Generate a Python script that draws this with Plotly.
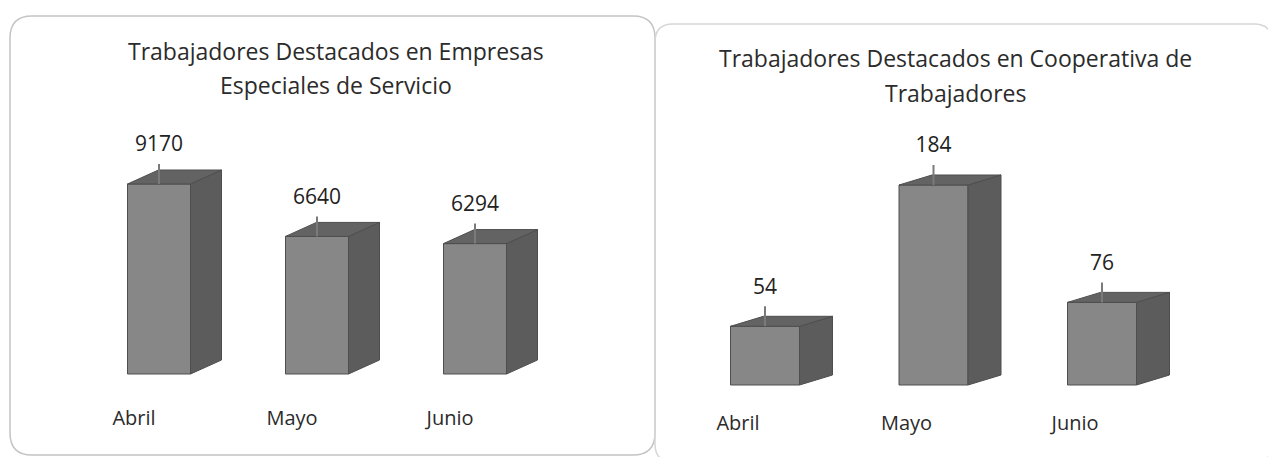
import plotly.graph_objects as go

# ---------------- data ----------------
months = ["Abril", "Mayo", "Junio"]
empresas = [9170, 6640, 6294]
cooperativa = [54, 184, 76]
title_left = "Trabajadores Destacados en Empresas<br>Especiales de Servicio"
title_right = "Trabajadores Destacados en Cooperativa de<br>Trabajadores"

# ---------------- layout geometry (page pixels) ----------------
PAGE_W, PAGE_H = 1276, 457
OFF = 8  # default body margin of the html page
W, H = PAGE_W - OFF, PAGE_H - OFF
FONT = "Open Sans"
TXT = "#2b2b2b"
FRONT, SIDE, TOP, EDGE = "#878787", "#5c5c5c", "#636363", "#4e4e4e"


def X(px):
    return (px - OFF) / W


def Y(py):
    return 1 - (py - OFF) / H


panels = [
    dict(values=empresas, title=title_left, xa="x", ya="y",
         dom=(OFF, 638), c0=159, sp=158, bw=63, base=374, ppu=190 / 9170,
         ybot=400, dx=31, dy=14, shift=-25, tcx=336, tcy=(51, 85)),
    dict(values=cooperativa, title=title_right, xa="x2", ya="y2",
         dom=(638, PAGE_W), c0=765, sp=168.5, bw=69, base=385, ppu=200 / 184,
         ybot=405, dx=33, dy=10, shift=-27, tcx=955, tcy=(58, 93)),
]

fig = go.Figure()
layout_axes = {}
annotations = []

for i, p in enumerate(panels):
    sp, ppu = p["sp"], p["ppu"]
    xr = [(p["dom"][0] - p["c0"]) / sp, (p["dom"][1] - p["c0"]) / sp]
    yr = [-(p["ybot"] - p["base"]) / ppu, (p["base"] - OFF) / ppu]
    w = p["bw"] / sp
    ddx = p["dx"] / sp
    ddy = p["dy"] / ppu
    xs = list(range(len(months)))
    vals = p["values"]

    # side and top faces (computed from data values)
    for x, v in zip(xs, vals):
        xr_edge = x + w / 2
        fig.add_trace(go.Scatter(
            x=[xr_edge, xr_edge + ddx, xr_edge + ddx, xr_edge, xr_edge],
            y=[0, ddy, v + ddy, v, 0],
            fill="toself", fillcolor=SIDE, mode="lines",
            line=dict(color=EDGE, width=1), hoverinfo="skip",
            showlegend=False, xaxis=p["xa"], yaxis=p["ya"]))
        xl_edge = x - w / 2
        fig.add_trace(go.Scatter(
            x=[xl_edge, xr_edge, xr_edge + ddx, xl_edge + ddx, xl_edge],
            y=[v, v, v + ddy, v + ddy, v],
            fill="toself", fillcolor=TOP, mode="lines",
            line=dict(color=EDGE, width=1), hoverinfo="skip",
            showlegend=False, xaxis=p["xa"], yaxis=p["ya"]))

    # front faces
    fig.add_trace(go.Bar(
        x=xs, y=vals, width=w,
        marker=dict(color=FRONT, line=dict(color=EDGE, width=1)),
        showlegend=False, hoverinfo="skip", xaxis=p["xa"], yaxis=p["ya"]))

    # leader lines
    lx, ly = [], []
    for x, v in zip(xs, vals):
        lx += [x, x, None]
        ly += [v, v + 20 / ppu, None]
    fig.add_trace(go.Scatter(
        x=lx, y=ly, mode="lines", line=dict(color="#7a7a7a", width=2),
        hoverinfo="skip", showlegend=False, xaxis=p["xa"], yaxis=p["ya"]))

    # value labels
    fig.add_trace(go.Scatter(
        x=xs, y=[v + 38 / ppu for v in vals], mode="text",
        text=[str(v) for v in vals], textposition="middle center",
        textfont=dict(family=FONT, size=21, color="#222222"),
        hoverinfo="skip", showlegend=False, xaxis=p["xa"], yaxis=p["ya"]))

    sfx = "" if i == 0 else str(i + 1)
    layout_axes["xaxis" + sfx] = dict(
        domain=[X(p["dom"][0]), X(p["dom"][1])], range=xr,
        tickvals=xs, ticktext=months, ticks="", showgrid=False,
        zeroline=False, showline=False, ticklabelshift=p["shift"],
        ticklabelstandoff=4,
        tickfont=dict(family=FONT, size=20, color=TXT),
        anchor="y" + sfx, fixedrange=True)
    layout_axes["yaxis" + sfx] = dict(
        domain=[Y(p["ybot"]), 1], range=yr, visible=False,
        showgrid=False, zeroline=False, anchor="x" + sfx, fixedrange=True)

    # titles
    lines = p["title"].split("<br>")
    for ln, cy in zip(lines, p["tcy"]):
        annotations.append(dict(
            text=ln, x=X(p["tcx"]), y=Y(cy), xref="paper", yref="paper",
            showarrow=False, xanchor="center", yanchor="middle",
            font=dict(family=FONT, size=23, color=TXT)))


def rounded_rect(x0, y0, x1, y1, r):
    return (f"M {X(x0 + r)} {Y(y0)} L {X(x1 - r)} {Y(y0)} "
            f"Q {X(x1)} {Y(y0)} {X(x1)} {Y(y0 + r)} L {X(x1)} {Y(y1 - r)} "
            f"Q {X(x1)} {Y(y1)} {X(x1 - r)} {Y(y1)} L {X(x0 + r)} {Y(y1)} "
            f"Q {X(x0)} {Y(y1)} {X(x0)} {Y(y1 - r)} L {X(x0)} {Y(y0 + r)} "
            f"Q {X(x0)} {Y(y0)} {X(x0 + r)} {Y(y0)} Z")


shapes = [
    dict(type="path", xref="paper", yref="paper",
         path=rounded_rect(10, 16, 655, 455, 22),
         line=dict(color="#c4c4c4", width=1.5), layer="below"),
    dict(type="path", xref="paper", yref="paper",
         path=rounded_rect(655, 24, 1272, 462, 18),
         line=dict(color="#d6d6d6", width=1.5), layer="below"),
]

fig.update_layout(
    width=W, height=H, margin=dict(l=0, r=0, t=0, b=0),
    paper_bgcolor="white", plot_bgcolor="rgba(0,0,0,0)",
    barmode="overlay", annotations=annotations, shapes=shapes,
    **layout_axes)

fig.write_html("out.html", config=dict(displayModeBar=False))
